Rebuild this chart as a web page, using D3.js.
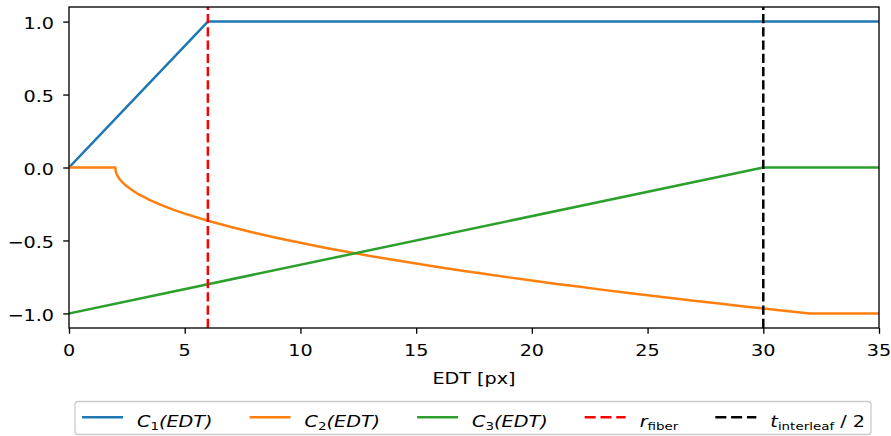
<!DOCTYPE html>
<html><head><meta charset="utf-8">
<script src="https://cdn.jsdelivr.net/npm/d3@7"></script>
<style>
body{margin:0;background:#fff;}
svg{display:block;font-family:"DejaVu Sans",sans-serif;}
</style></head>
<body>
<svg id="c" width="891" height="436"></svg>
<script>
// ---- data ----
const c1X = [0, 6, 35];
const c1Y = [0, 1, 1];
const c2X = [0, 2, 2.02, 2.05, 2.1, 2.2, 2.3, 2.5, 2.75, 3, 3.5, 4, 4.5, 5, 6, 7, 8, 9, 10, 11, 12, 13, 14, 15, 16, 17, 18, 19, 20, 21, 22, 23, 24, 25, 26, 27, 28, 29, 30, 31, 32, 35];
const c2Y = [0, 0, -0.026, -0.041, -0.058, -0.082, -0.100, -0.129, -0.158, -0.183, -0.224, -0.258, -0.289, -0.316, -0.365, -0.408, -0.447, -0.483, -0.516, -0.548, -0.577, -0.606, -0.632, -0.658, -0.683, -0.707, -0.730, -0.753, -0.775, -0.796, -0.816, -0.837, -0.856, -0.876, -0.894, -0.913, -0.931, -0.949, -0.966, -0.983, -1.0, -1.0];
const c3X = [0, 30, 35];
const c3Y = [-1, 0, 0];
const rFiber = 6;
const tHalf = 30;
const xTicks = [0, 5, 10, 15, 20, 25, 30, 35];
const yTicks = [-1.0, -0.5, 0.0, 0.5, 1.0];
const xLabel = "EDT [px]";

const svg = d3.select("#c");
const L = 69, R = 879, T = 7, B = 328;
const x = d3.scaleLinear().domain([0, 35]).range([L, R]);
const y = d3.scaleLinear().domain([-1.1, 1.1]).range([B, T]);

const colors = {c1: "#1f77b4", c2: "#ff7f0e", c3: "#2ca02c", red: "#ff0000", black: "#000000"};
const lw = 2.5;
const dash = "9.25,4";
const fs = 16;
const sx = 1.2; // horizontal text stretch

svg.append("clipPath").attr("id", "clip").append("rect")
  .attr("x", L).attr("y", T).attr("width", R - L).attr("height", B - T);

const g = svg.append("g").attr("clip-path", "url(#clip)");
const line = d3.line().x(d => x(d[0])).y(d => y(d[1]));
function draw(xs, ys, col) {
  g.append("path").datum(xs.map((v, i) => [v, ys[i]]))
    .attr("d", line).attr("fill", "none").attr("stroke", col)
    .attr("stroke-width", lw).attr("stroke-linejoin", "round").attr("stroke-linecap", "square");
}
draw(c1X, c1Y, colors.c1);
draw(c2X, c2Y, colors.c2);
draw(c3X, c3Y, colors.c3);
function vline(v, col) {
  g.append("line").attr("x1", x(v)).attr("x2", x(v)).attr("y1", B).attr("y2", T)
    .attr("stroke", col).attr("stroke-width", lw).attr("stroke-dasharray", dash);
}
vline(rFiber, colors.red);
vline(tHalf, colors.black);

function stretchedText(parent, px, py, anchor) {
  return parent.append("g").attr("transform", `translate(${px},${py}) scale(${sx},1)`)
    .append("text").attr("x", 0).attr("y", 0).attr("text-anchor", anchor)
    .attr("font-size", fs).attr("fill", "#000");
}

// axes (ticks via d3 axis, labels stretched)
const xAxis = d3.axisBottom(x).tickValues(xTicks).tickSizeOuter(0).tickSize(5.8).tickFormat("");
const gx = svg.append("g").attr("transform", `translate(0,${B})`).call(xAxis);
const yAxis = d3.axisLeft(y).tickValues(yTicks).tickSizeOuter(0).tickSize(5.8).tickFormat("");
const gy = svg.append("g").attr("transform", `translate(${L},0)`).call(yAxis);
[gx, gy].forEach(a => {
  a.select(".domain").remove();
  a.selectAll(".tick line").attr("stroke", "#000").attr("stroke-width", 1.33);
});
const fmtX = d3.format("d");
const fmtY = d => d3.format(".1f")(d).replace("-", "\u2212");
xTicks.forEach(d => stretchedText(svg, x(d), 356, "middle").text(fmtX(d)));
yTicks.forEach(d => stretchedText(svg, 54, y(d) + 7.8, "end").text(fmtY(d)));

// frame
svg.append("rect").attr("x", L).attr("y", T).attr("width", R - L).attr("height", B - T)
  .attr("fill", "none").attr("stroke", "#000").attr("stroke-width", 1.33);

stretchedText(svg, (L + R) / 2, 384, "middle").text(xLabel);

// legend
const legItems = [
  {col: colors.c1, dashed: false, parts: [["C", "i"], ["1", "s"], ["(EDT)", "i"]]},
  {col: colors.c2, dashed: false, parts: [["C", "i"], ["2", "s"], ["(EDT)", "i"]]},
  {col: colors.c3, dashed: false, parts: [["C", "i"], ["3", "s"], ["(EDT)", "i"]]},
  {col: colors.red, dashed: true, parts: [["r", "i"], ["fiber", "s"]]},
  {col: colors.black, dashed: true, parts: [["t", "i"], ["interleaf", "s"], [" / 2", "r"]]}
];
const lg = svg.append("g");
lg.append("rect").attr("x", 75).attr("y", 401.5).attr("width", 796).attr("height", 33)
  .attr("rx", 3).attr("fill", "#fff").attr("fill-opacity", 0.8).attr("stroke", "#cccccc").attr("stroke-width", 1.33);
const legDash = "11,4.8";
let cx = 82;
const ly = 417.3, tb = 427;
legItems.forEach(it => {
  lg.append("line").attr("x1", cx).attr("x2", cx + 41).attr("y1", ly).attr("y2", ly)
    .attr("stroke", it.col).attr("stroke-width", lw)
    .attr("stroke-dasharray", it.dashed ? legDash : null);
  const t = stretchedText(lg, cx + 55, tb, "start");
  let off = 0;
  it.parts.forEach(p => {
    const s = t.append("tspan").text(p[0]);
    const target = p[1] === "s" ? 3.4 : 0;
    if (target !== off) { s.attr("dy", target - off); off = target; }
    if (p[1] === "i") s.attr("font-style", "italic");
    if (p[1] === "s") s.attr("font-size", fs * 0.7);
  });
  const w = t.node().getComputedTextLength() * sx;
  cx = cx + 55 + w + 37;
});
</script>
</body></html>
